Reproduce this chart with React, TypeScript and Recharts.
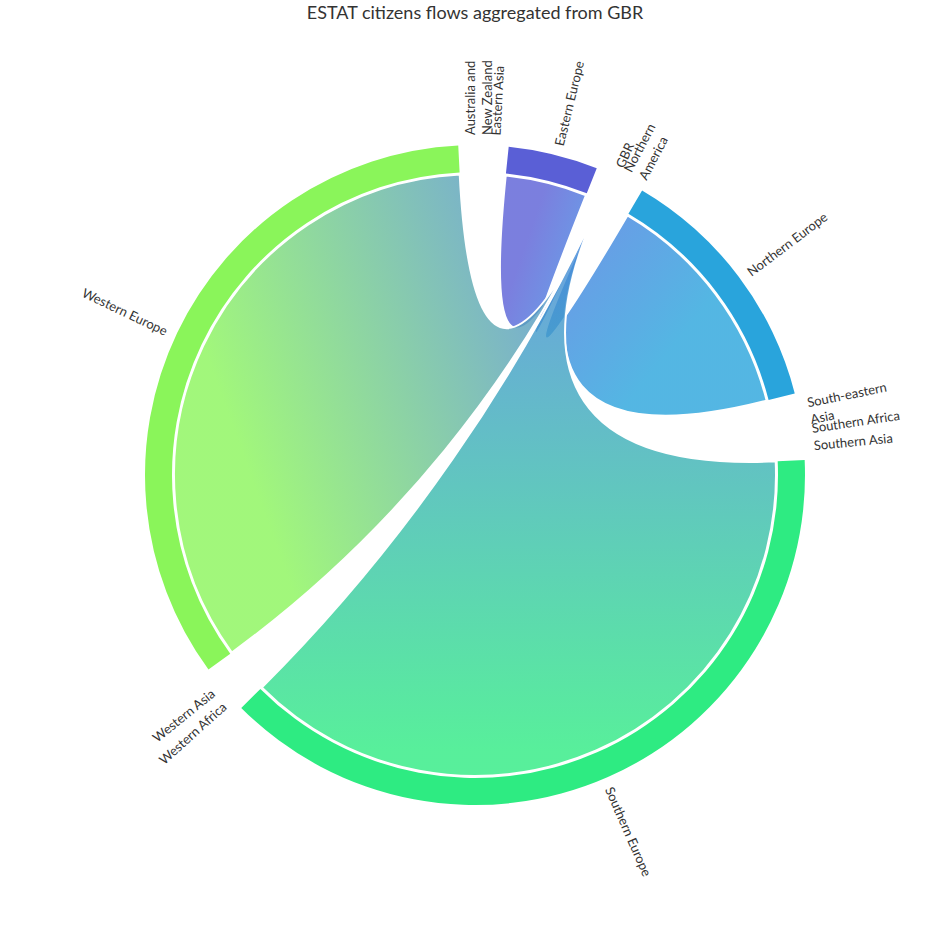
import { PieChart, Pie, Cell } from 'recharts'

const regions = [
  'Australia and New Zealand',
  'Eastern Asia',
  'Eastern Europe',
  'GBR',
  'Northern America',
  'Northern Europe',
  'South-eastern Asia',
  'Southern Africa',
  'Southern Asia',
  'Southern Europe',
  'Western Africa',
  'Western Asia',
  'Western Europe',
]
// flows from GBR
const flows = [0.02, 0.02, 15.8, 0.02, 0.02, 45.3, 0.02, 0.02, 0.02, 137.8, 0.02, 0.02, 123.3]
const colors = [
  '#7cb5ec', '#434348', '#5a5fd6', '#4680e0', '#f7a35c', '#29a4dc', '#8085e9',
  '#f15c80', '#e4d354', '#2eeb82', '#2b908f', '#f45b5b', '#8af55a',
]
const labelLines: Record<string, string[]> = {
  'Australia and New Zealand': ['Australia and', 'New Zealand'],
  'Northern America': ['Northern', 'America'],
  'South-eastern Asia': ['South-eastern', 'Asia'],
}
const SOURCE = 'GBR'

const W = 950
const H = 950
const CX = 475
const CY = 475
const START = 90
const PAD = 2.91
const RIBBON_R = 301
const CURVE = 0.65
const RAD = Math.PI / 180

const data = regions.map((name, i) => ({ name, value: flows[i] }))

const pt = (cx: number, cy: number, r: number, a: number) => [
  cx + r * Math.cos(-a * RAD),
  cy + r * Math.sin(-a * RAD),
]

// same arithmetic as the Pie uses, to find where the source node sits
function sourceAngle() {
  const total = flows.reduce((s, v) => s + v, 0)
  const real = 360 - PAD * flows.length
  let a = START
  for (let i = 0; i < regions.length; i++) {
    const w = (flows[i] / total) * real
    if (regions[i] === SOURCE) return a - w / 2
    a -= w + PAD
  }
  return START
}
const srcAngle = sourceAngle()

const renderRibbon = (props: any) => {
  const { cx, cy, startAngle, endAngle, index } = props
  const name = props.payload?.name ?? props.name
  const i = regions.indexOf(name)
  if (name === SOURCE || flows[i] < 1) return <g />
  const r = RIBBON_R
  const g = pt(cx, cy, r, srcAngle)
  const c0 = pt(cx, cy, r, startAngle)
  const c1 = pt(cx, cy, r, endAngle)
  const k = 1 - CURVE
  const cp = (p: number[]) => [cx + k * (p[0] - cx), cy + k * (p[1] - cy)]
  const large = Math.abs(startAngle - endAngle) > 180 ? 1 : 0
  const d = `M${c0} A${r},${r} 0 ${large} 1 ${c1} C${cp(c1)} ${cp(g)} ${g} C${cp(g)} ${cp(c0)} ${c0} Z`
  const mid = pt(cx, cy, r, (startAngle + endAngle) / 2)
  const id = `ribbon-${index}`
  return (
    <g>
      <defs>
        <linearGradient id={id} gradientUnits="userSpaceOnUse" x1={g[0]} y1={g[1]} x2={mid[0]} y2={mid[1]}>
          <stop offset="0" stopColor={colors[regions.indexOf(SOURCE)]} />
          <stop offset="1" stopColor={colors[i]} />
        </linearGradient>
      </defs>
      <path d={d} fill={`url(#${id})`} fillOpacity={0.8} stroke="#fff" strokeWidth={2} />
    </g>
  )
}

const renderLabel = (p: any) => {
  const theta = (((90 - p.midAngle) % 360) + 360) % 360
  const r = p.outerRadius + 10
  const x = p.cx + r * Math.sin(theta * RAD)
  const y = p.cy - r * Math.cos(theta * RAD)
  const right = theta < 180 || theta > 350
  const rot = right ? theta - 90 : theta - 270
  const lines = labelLines[p.name] ?? [p.name]
  const lh = 17
  return (
    <text
      x={x}
      y={y}
      transform={`rotate(${rot} ${x} ${y})`}
      textAnchor={right ? 'start' : 'end'}
      fontSize={13}
      fill="#333"
      fontFamily="Lato, sans-serif"
    >
      {lines.map((l, j) => (
        <tspan key={j} x={x} dy={j === 0 ? -((lines.length - 1) / 2) * lh + 8 : lh}>
          {l}
        </tspan>
      ))}
    </text>
  )
}

export default function App() {
  return (
    <div style={{ position: 'absolute', left: 0, top: 0, width: W, height: H, background: '#fff' }}>
      <div
        style={{
          position: 'absolute',
          top: 1,
          width: W,
          textAlign: 'center',
          fontFamily: 'Lato, sans-serif',
          fontSize: 18,
          color: '#333',
        }}
      >
        ESTAT citizens flows aggregated from GBR
      </div>
      <PieChart width={W} height={H} margin={{ top: 0, right: 0, bottom: 0, left: 0 }}>
        <Pie
          data={data}
          dataKey="value"
          nameKey="name"
          cx={CX}
          cy={CY}
          innerRadius={0}
          outerRadius={RIBBON_R}
          startAngle={START}
          endAngle={START - 360}
          paddingAngle={PAD}
          stroke="none"
          shape={renderRibbon}
          isAnimationActive={false}
        />
        <Pie
          data={data}
          dataKey="value"
          nameKey="name"
          cx={CX}
          cy={CY}
          innerRadius={303}
          outerRadius={330}
          startAngle={START}
          endAngle={START - 360}
          paddingAngle={PAD}
          stroke="none"
          label={renderLabel}
          labelLine={false}
          isAnimationActive={false}
        >
          {data.map((d, i) => (
            <Cell key={d.name} fill={flows[i] < 1 ? 'none' : colors[i]} />
          ))}
        </Pie>
      </PieChart>
    </div>
  )
}
